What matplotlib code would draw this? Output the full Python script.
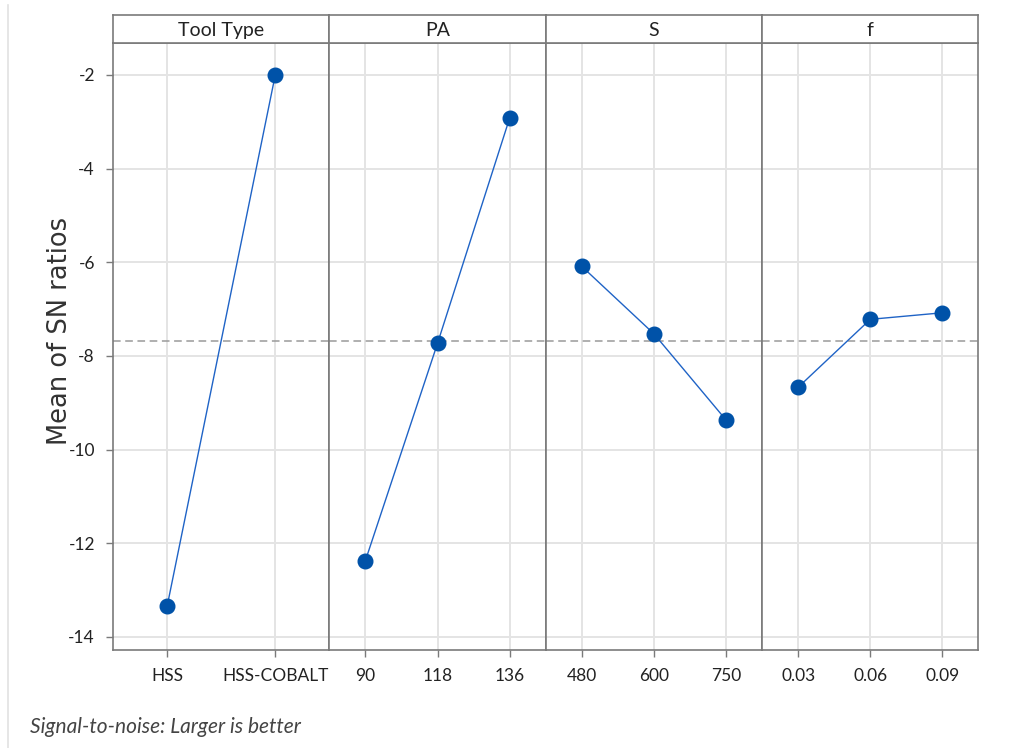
import matplotlib
matplotlib.use("Agg")
import matplotlib.pyplot as plt

# main effects plot for SN ratios
factors = ["Tool Type", "PA", "S", "f"]
levels = [["HSS", "HSS-COBALT"],
          ["90", "118", "136"],
          ["480", "600", "750"],
          ["0.03", "0.06", "0.09"]]
sn_means = [[-13.35, -2.00],
            [-12.37, -7.73, -2.92],
            [-6.09, -7.53, -9.37],
            [-8.67, -7.22, -7.08]]
grand_mean = -7.69
yticks = [-14, -12, -10, -8, -6, -4, -2]

W, H = 1012, 748
fig = plt.figure(figsize=(W / 100, H / 100), dpi=100)
fig.patch.set_facecolor("white")

FONT = "Lato"
EDGE = "#7a7a7a"
x0, x1, top, strip_top, bottom = 113, 978.5, 43, 15, 650
pw = (x1 - x0) / len(factors)
ylim = (-14.28, -1.32)

for i, (name, labs, vals) in enumerate(zip(factors, levels, sn_means)):
    left = x0 + i * pw
    ax = fig.add_axes([left / W, 1 - bottom / H, pw / W, (bottom - top) / H])
    xs = list(range(1, len(labs) + 1))
    ax.set_xlim(0.5, len(labs) + 0.5)
    ax.set_ylim(*ylim)
    ax.grid(True, color="#e4e4e4", linewidth=1.4, zorder=0)
    ax.axhline(grand_mean, color="#9a9a9a", linestyle=(0, (5, 3)),
               linewidth=1.1, zorder=1)
    ax.plot(xs, vals, color="#1f63c6", linewidth=1.0, zorder=2)
    ax.plot(xs, vals, "o", color="#0052a8", markersize=10.5, zorder=3)
    ax.set_xticks(xs)
    ax.set_xticklabels(labs, fontsize=12.5, family=FONT, color="#222222")
    ax.set_yticks(yticks)
    if i == 0:
        ax.set_yticklabels([str(t) for t in yticks], fontsize=12.5,
                           family=FONT, color="#222222")
        ax.set_ylabel("Mean of SN ratios", fontsize=18.5, color="#333333",
                      family="DejaVu Sans")
        ax.yaxis.set_label_coords((73 - x0) / pw, (bottom - 331) / (bottom - top))
    else:
        ax.tick_params(axis="y", left=False, labelleft=False)
    ax.tick_params(axis="both", length=5, width=1.0, color=EDGE, pad=8)
    for sp in ax.spines.values():
        sp.set_color(EDGE)
        sp.set_linewidth(1.2)
    ax.set_axisbelow(True)

    # facet strip
    sx = fig.add_axes([left / W, 1 - top / H, pw / W, (top - strip_top) / H])
    sx.set_xticks([]); sx.set_yticks([])
    for sp in sx.spines.values():
        sp.set_color(EDGE)
        sp.set_linewidth(1.2)
    sx.text(0.5, 0.45, name, ha="center", va="center", fontsize=14,
            family=FONT, color="#222222", transform=sx.transAxes)

# thin page edge line at left
fig.add_artist(plt.Line2D([8 / W, 8 / W], [0, 1 - 5 / H], color="#e2e2e2",
                          linewidth=1.2))

fig.text(30 / W, 1 - 727 / H, "Signal-to-noise: Larger is better",
         fontsize=15, family=FONT, style="italic", color="#444444",
         va="center")

fig.savefig("out.png", dpi=100, facecolor="white")
